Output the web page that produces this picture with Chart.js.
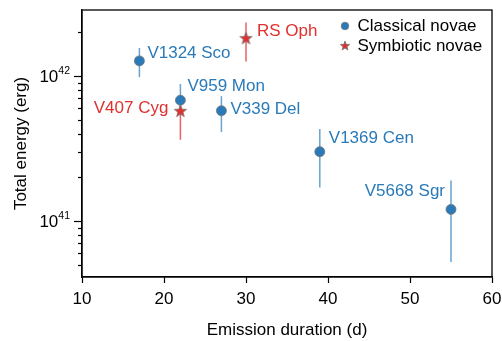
<!DOCTYPE html>
<html>
<head>
<meta charset="utf-8">
<script src="https://cdn.jsdelivr.net/npm/chart.js@4.4.1/dist/chart.umd.min.js"></script>
<style>
html,body{margin:0;padding:0;background:#fff;}
</style>
</head>
<body>
<canvas id="novae" width="502" height="341"></canvas>
<script>
// ---------- Data ----------

const classicalNames = ["V1324 Sco", "V959 Mon", "V339 Del", "V1369 Cen", "V5668 Sgr"];
const classicalDuration = [17, 22, 27, 39, 55];
const classicalEnergy = [1.27e42, 6.8e41, 5.75e41, 3.0e41, 1.2e41];
const classicalLow = [0.98e42, 5.6e41, 4.1e41, 1.7e41, 5.2e40];
const classicalHigh = [1.56e42, 8.8e41, 7.25e41, 4.3e41, 1.9e41];

const symbioticNames = ["V407 Cyg", "RS Oph"];
const symbioticDuration = [22, 30];
const symbioticEnergy = [5.7e41, 1.81e42];
const symbioticLow = [3.63e41, 1.26e42];
const symbioticHigh = [6.6e41, 2.34e42];

const xTicks = [10, 20, 30, 40, 50, 60];
const yTickLabels = [1e41, 1e42];

// ---------- Style ----------

const BLUE = "#2a7ab9";
const RED = "#e0302f";
const FONT = "'Liberation Sans', Arial, Helvetica, sans-serif";

// label offsets (px) from each marker
const classicalLabelPos = [
    {dx: 8, dy: -8, align: "left"},
    {dx: 7, dy: -14, align: "left"},
    {dx: 9, dy: -1, align: "left"},
    {dx: 9, dy: -13, align: "left"},
    {dx: -6, dy: -18, align: "right"}
];
const symbioticLabelPos = [
    {dx: -12, dy: -3, align: "right"},
    {dx: 11, dy: -7, align: "left"}
];

function makeStar(r, fill) {
    const c = document.createElement("canvas");
    const s = Math.ceil(r * 2 + 4);
    c.width = s; c.height = s;
    const g = c.getContext("2d");
    g.beginPath();
    for (let i = 0; i < 10; i++) {
        const rr = i % 2 === 0 ? r : r * 0.42;
        const a = -Math.PI / 2 + i * Math.PI / 5;
        const px = s / 2 + rr * Math.cos(a), py = s / 2 + rr * Math.sin(a);
        if (i === 0) g.moveTo(px, py); else g.lineTo(px, py);
    }
    g.closePath();
    g.fillStyle = fill;
    g.fill();
    g.strokeStyle = "#777";
    g.lineWidth = 0.8;
    g.stroke();
    return c;
}

const starBig = makeStar(6.5, RED);
const starSmall = makeStar(5, RED);

// ---------- Plugin: error bars, frame, log ticks, labels, legend ----------

const novaePlugin = {
    id: "novae",
    beforeDatasetsDraw(chart) {
        const ctx = chart.ctx, xs = chart.scales.x, ys = chart.scales.y;
        function bars(dur, lo, hi, color) {
            ctx.save();
            ctx.strokeStyle = color;
            ctx.lineWidth = 1.5;
            dur.forEach((d, i) => {
                const px = xs.getPixelForValue(d);
                ctx.beginPath();
                ctx.moveTo(px, ys.getPixelForValue(lo[i]));
                ctx.lineTo(px, ys.getPixelForValue(hi[i]));
                ctx.stroke();
            });
            ctx.restore();
        }
        bars(classicalDuration, classicalLow, classicalHigh, "rgba(42,122,185,0.7)");
        bars(symbioticDuration, symbioticLow, symbioticHigh, "rgba(224,48,47,0.75)");
    },
    afterDraw(chart) {
        const ctx = chart.ctx, xs = chart.scales.x, ys = chart.scales.y;
        const a = chart.chartArea;
        ctx.save();

        // frame
        ctx.strokeStyle = "#000";
        ctx.lineWidth = 1.3;
        ctx.strokeRect(a.left, a.top, a.right - a.left, a.bottom - a.top);

        // y ticks (log, outward)
        ctx.lineWidth = 1.2;
        ys.ticks.forEach(t => {
            const v = t.value;
            const e = Math.floor(Math.log10(v) + 1e-9);
            const m = v / Math.pow(10, e);
            if (Math.abs(m - Math.round(m)) > 1e-6) return;
            const py = Math.round(ys.getPixelForValue(v)) + 0.5;
            const len = Math.round(m) === 1 ? 8 : 4;
            ctx.beginPath();
            ctx.moveTo(a.left, py);
            ctx.lineTo(a.left - len, py);
            ctx.stroke();
        });

        // y tick labels 10^n
        ctx.fillStyle = "#000";
        yTickLabels.forEach(v => {
            const py = ys.getPixelForValue(v);
            const ex = String(Math.round(Math.log10(v)));
            ctx.font = "10.5px " + FONT;
            const we = ctx.measureText(ex).width;
            ctx.font = "17px " + FONT;
            const wb = ctx.measureText("10").width;
            const right = a.left - 12;
            ctx.textBaseline = "middle";
            ctx.textAlign = "left";
            ctx.fillText("10", right - we - wb, py + 1);
            ctx.font = "10.5px " + FONT;
            ctx.textBaseline = "alphabetic";
            ctx.fillText(ex, right - we, py - 2.3);
        });

        // point labels
        ctx.font = "17px " + FONT;
        ctx.textBaseline = "middle";
        function labels(names, dur, en, pos, color) {
            ctx.fillStyle = color;
            names.forEach((n, i) => {
                const px = xs.getPixelForValue(dur[i]);
                const py = ys.getPixelForValue(en[i]);
                ctx.textAlign = pos[i].align;
                ctx.fillText(n, px + pos[i].dx, py + pos[i].dy);
            });
        }
        labels(classicalNames, classicalDuration, classicalEnergy, classicalLabelPos, BLUE);
        labels(symbioticNames, symbioticDuration, symbioticEnergy, symbioticLabelPos, RED);

        // legend
        const lx = 345, ly = 26;
        ctx.beginPath();
        ctx.arc(lx, ly, 3.8, 0, Math.PI * 2);
        ctx.fillStyle = BLUE;
        ctx.fill();
        ctx.strokeStyle = "#777";
        ctx.lineWidth = 0.8;
        ctx.stroke();
        ctx.drawImage(starSmall, lx - starSmall.width / 2, ly + 20 - starSmall.height / 2);
        ctx.fillStyle = "#000";
        ctx.textAlign = "left";
        ctx.fillText("Classical novae", 357.5, ly + 0.5);
        ctx.fillText("Symbiotic novae", 357.5, ly + 20.5);

        ctx.restore();
    }
};

// ---------- Chart ----------

Chart.defaults.font.family = FONT;
Chart.defaults.color = "#000";

const ctx = document.getElementById("novae");

new Chart(ctx, {
    type: "scatter",
    data: {
        datasets: [
            {
                label: "Classical novae",
                data: classicalDuration.map((d, i) => ({x: d, y: classicalEnergy[i]})),
                backgroundColor: BLUE,
                borderColor: "#777",
                borderWidth: 0.8,
                pointRadius: 5,
                pointHoverRadius: 5
            },
            {
                label: "Symbiotic novae",
                data: symbioticDuration.map((d, i) => ({x: d, y: symbioticEnergy[i]})),
                pointStyle: starBig,
                pointRadius: 6
            }
        ]
    },
    plugins: [novaePlugin],
    options: {
        responsive: false,
        animation: false,
        devicePixelRatio: 1,
        layout: {padding: {top: 10, right: 10, left: 0, bottom: 0}},
        plugins: {
            legend: {display: false},
            tooltip: {enabled: false}
        },
        scales: {
            x: {
                type: "linear",
                min: xTicks[0],
                max: xTicks[xTicks.length - 1],
                afterBuildTicks: s => { s.ticks = xTicks.map(v => ({value: v})); },
                afterFit: s => { s.height = 64; s.paddingLeft = 0; s.paddingRight = 0; },
                ticks: {font: {size: 17}, padding: 6, color: "#000", maxRotation: 0},
                grid: {drawOnChartArea: false, tickLength: 6, tickColor: "#000", tickWidth: 1.2},
                border: {color: "#000", width: 1.3},
                title: {
                    display: true,
                    text: "Emission duration (d)",
                    font: {size: 17},
                    color: "#000",
                    padding: {top: 0, bottom: 0}
                }
            },
            y: {
                type: "logarithmic",
                min: 4.1e40,
                max: 2.85e42,
                afterFit: s => { s.width = 82; s.paddingTop = 0; s.paddingBottom = 0; },
                ticks: {display: false},
                grid: {display: false},
                border: {color: "#000", width: 1.3},
                title: {
                    display: true,
                    text: "Total energy (erg)",
                    font: {size: 17},
                    color: "#000",
                    padding: {top: 11, bottom: 0}
                }
            }
        }
    }
});
</script>
</body>
</html>
